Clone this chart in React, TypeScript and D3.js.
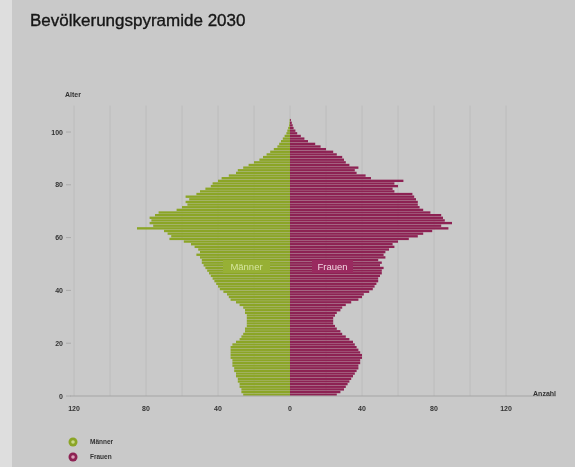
import React from "react";
import * as d3 from "d3";

const TITLE = "Bevölkerungspyramide 2030";
const maleLabel = "Männer";
const femaleLabel = "Frauen";
const xTicks = [-120, -80, -40, 0, 40, 80, 120];
const gridTicks = [-120, -100, -80, -60, -40, -20, 0, 20, 40, 60, 80, 100, 120];
const yTicks = [0, 20, 40, 60, 80, 100];

// values by age 0..104
const male = [
  26, 27, 27, 28, 28, 29, 29, 30, 30, 31,
  31, 32, 32, 32, 33, 33, 33, 33, 33, 32,
  30, 28, 27, 26, 25, 25, 24, 24, 24, 24,
  24, 25, 25, 26, 28, 30, 33, 34, 35, 37,
  39, 40, 41, 42, 43, 44, 45, 46, 47, 48,
  49, 49, 50, 52, 50, 51, 53, 55, 59, 67,
  66, 68, 70, 85, 76, 78, 77, 78, 75, 73,
  63, 60, 57, 58, 56, 58, 52, 50, 47, 44,
  43, 40, 38, 34, 30, 29, 26, 23, 20, 17,
  15, 13, 11, 9, 7, 6, 5, 4, 3, 2,
  1.5, 1, 0.5, 0.3, 0.2,
];
const female = [
  26, 28, 30, 31, 32, 33, 34, 35, 36, 37,
  38, 38, 39, 39, 40, 40, 39, 38, 37, 36,
  35, 33, 31, 29, 28, 26, 25, 24, 24, 24,
  25, 26, 28, 29, 31, 34, 38, 40, 41, 44,
  46, 47, 48, 49, 49, 50, 51, 51, 52, 50,
  51, 49, 53, 52, 53, 55, 58, 57, 60, 66,
  71, 74, 79, 88, 84, 90, 86, 85, 84, 78,
  74, 72, 71, 71, 70, 69, 68, 58, 57, 60,
  58, 63, 45, 42, 37, 36, 38, 33, 31, 30,
  29, 26, 24, 20, 17, 14, 10, 8, 6, 4,
  3, 2, 1.5, 1, 0.5,
];
const ages = male.map((_, i) => i);

export default function App() {
  const W = 575, H = 467;
  const x = d3.scaleLinear().domain([-120, 120]).range([74, 506]);
  const y = d3.scaleLinear().domain([0, 110]).range([396, 105.6]);
  const green = "#8ba525";
  const maroon = "#8d2152";
  const font = "Liberation Sans, Arial, sans-serif";
  const pad = 0.3;
  return (
    <svg width={W} height={H} style={{ position: "absolute", left: 0, top: 0, display: "block" }}>
      <defs>
        <filter id="soft" x="0" y="0" width="1" height="1">
          <feGaussianBlur stdDeviation="0.55" />
        </filter>
      </defs>
      <g filter="url(#soft)">
        <rect x={0} y={0} width={W} height={H} fill="#dedede" />
        <rect x={12} y={0} width={W - 12} height={H} fill="#c9c9c9" />
        <text x={30} y={26} fontFamily={font} fontSize={17} fill="#151515" stroke="#151515" strokeWidth={0.35}>{TITLE}</text>
        {gridTicks.map((t) => (
          <line key={"g" + t} x1={x(t)} x2={x(t)} y1={y(110)} y2={y(0)} stroke="#bcbcbc" strokeWidth={1} />
        ))}
        {ages.map((a) => (
          <rect key={"m" + a} x={x(-male[a])} width={x(0) - x(-male[a])}
            y={y(a + 1) + pad / 2} height={y(a) - y(a + 1) - pad} fill={green} />
        ))}
        {ages.map((a) => (
          <rect key={"f" + a} x={x(0)} width={x(female[a]) - x(0)}
            y={y(a + 1) + pad / 2} height={y(a) - y(a + 1) - pad} fill={maroon} />
        ))}
        <line x1={70} x2={556} y1={y(0)} y2={y(0)} stroke="#a5a5a5" strokeWidth={1} />
        {yTicks.map((t) => (
          <g key={"y" + t}>
            <line x1={66} x2={71} y1={y(t)} y2={y(t)} stroke="#aaaaaa" />
            <text x={63} y={y(t) + 2.5} textAnchor="end" fontFamily={font} fontSize={7} fontWeight="bold" fill="#333">{t}</text>
          </g>
        ))}
        <text x={65} y={97} fontFamily={font} fontSize={7} fontWeight="bold" fill="#333">Alter</text>
        {xTicks.map((t) => (
          <text key={"x" + t} x={x(t)} y={411} textAnchor="middle" fontFamily={font} fontSize={7} fontWeight="bold" fill="#333">{Math.abs(t)}</text>
        ))}
        <text x={556} y={396} textAnchor="end" fontFamily={font} fontSize={7} fontWeight="bold" fill="#333">Anzahl</text>
        <rect x={223} y={260} width={47} height={13} fill="#97b034" />
        <text x={246.5} y={270} textAnchor="middle" fontFamily={font} fontSize={9.5} fill="#d6e6a0">{maleLabel}</text>
        <rect x={312} y={260} width={41} height={13} fill="#992c5e" />
        <text x={332.5} y={270} textAnchor="middle" fontFamily={font} fontSize={9.5} fill="#f3d4e2">{femaleLabel}</text>
        <circle cx={73} cy={442} r={4.5} fill={green} />
        <circle cx={73} cy={442} r={1.8} fill="#c9d98a" />
        <text x={90} y={444} fontFamily={font} fontSize={6.5} fontWeight="bold" fill="#333">{maleLabel}</text>
        <circle cx={73} cy={457} r={4.5} fill={maroon} />
        <circle cx={73} cy={457} r={1.8} fill="#d9a0b8" />
        <text x={90} y={459} fontFamily={font} fontSize={6.5} fontWeight="bold" fill="#333">{femaleLabel}</text>
      </g>
    </svg>
  );
}
